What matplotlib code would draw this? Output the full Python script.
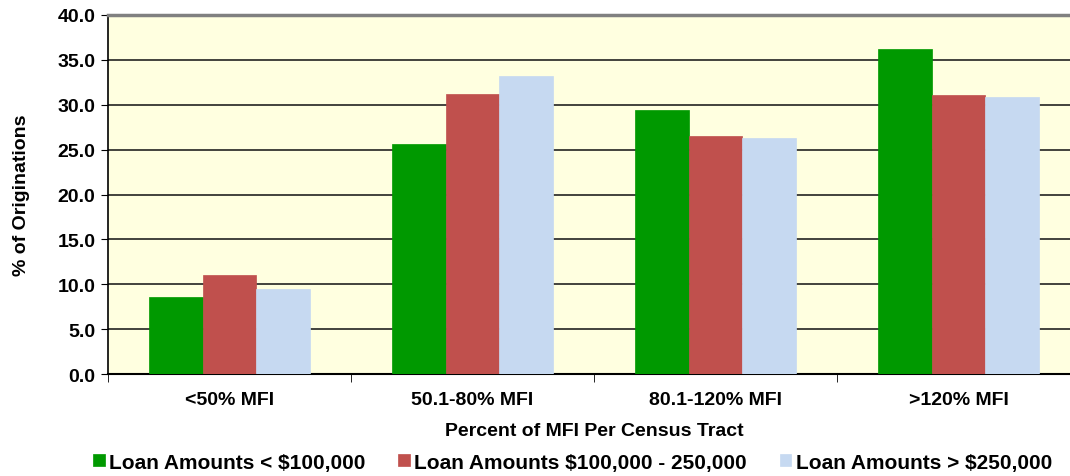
import numpy as np
import matplotlib.pyplot as plt

categories = ["<50% MFI", "50.1-80% MFI", "80.1-120% MFI", ">120% MFI"]
series_names = ["Loan Amounts < $100,000",
                "Loan Amounts $100,000 - 250,000",
                "Loan Amounts > $250,000"]
under_100k = [8.6, 25.6, 29.4, 36.2]
mid_100k_250k = [11.0, 31.2, 26.5, 31.1]
over_250k = [9.5, 33.2, 26.3, 30.9]
colors = ["#009900", "#C0504D", "#C6D9F1"]

plt.rcParams['font.family'] = ['Liberation Sans', 'DejaVu Sans']
plt.rcParams['font.weight'] = 'bold'
fs = 14

fig = plt.figure(figsize=(10.7, 4.77), dpi=100)
ax = fig.add_axes([108 / 1070, 1 - 375 / 477, 972 / 1070, 359 / 477])
ax.set_facecolor("#FFFFE0")

x = np.arange(len(categories))
width = 0.222
for i, (vals, name, c) in enumerate(zip([under_100k, mid_100k_250k, over_250k],
                                         series_names, colors)):
    ax.bar(x + (i - 1) * width, vals, width, color=c, label=name,
           edgecolor=c, linewidth=0.5, zorder=3)

ax.set_ylim(0, 40)
ax.set_xlim(-0.5, len(categories) - 0.5)
ax.set_yticks(np.arange(0, 40.1, 5))
ax.set_yticklabels([f"{v:.1f}" for v in np.arange(0, 40.1, 5)], fontsize=fs,
                   fontweight='bold')
ax.yaxis.grid(True, color="#222222", linewidth=1.2, zorder=1)
ax.set_axisbelow(True)

ax.set_xticks(x)
ax.set_xticklabels(categories, fontsize=fs, fontweight='bold')
ax.tick_params(axis='x', length=0, pad=12)
ax.set_xticks(np.arange(-0.5, len(categories)), minor=True)
ax.tick_params(axis='x', which='minor', length=6, color='black')
ax.tick_params(axis='y', length=5, color='black', pad=4)

for side in ["top", "right"]:
    ax.spines[side].set_visible(False)
ax.spines["left"].set_color("black")
ax.spines["left"].set_linewidth(1.2)
ax.spines["bottom"].set_color("black")
ax.spines["bottom"].set_linewidth(1.5)
ax.axhline(40, color="#808080", linewidth=2.5, zorder=4, clip_on=False)

ax.set_xlabel("Percent of MFI Per Census Tract", fontsize=fs, fontweight='bold',
              labelpad=10)
ax.set_ylabel("% of Originations", fontsize=fs, fontweight='bold', labelpad=20)

fig.legend(loc="lower center", bbox_to_anchor=(0.535, -0.03), ncol=3,
           frameon=False, handlelength=0.55, handleheight=0.55,
           handletextpad=0.2, columnspacing=1.6, prop={'weight': 'bold', 'size': 15})

fig.savefig("out.png", dpi=100)
